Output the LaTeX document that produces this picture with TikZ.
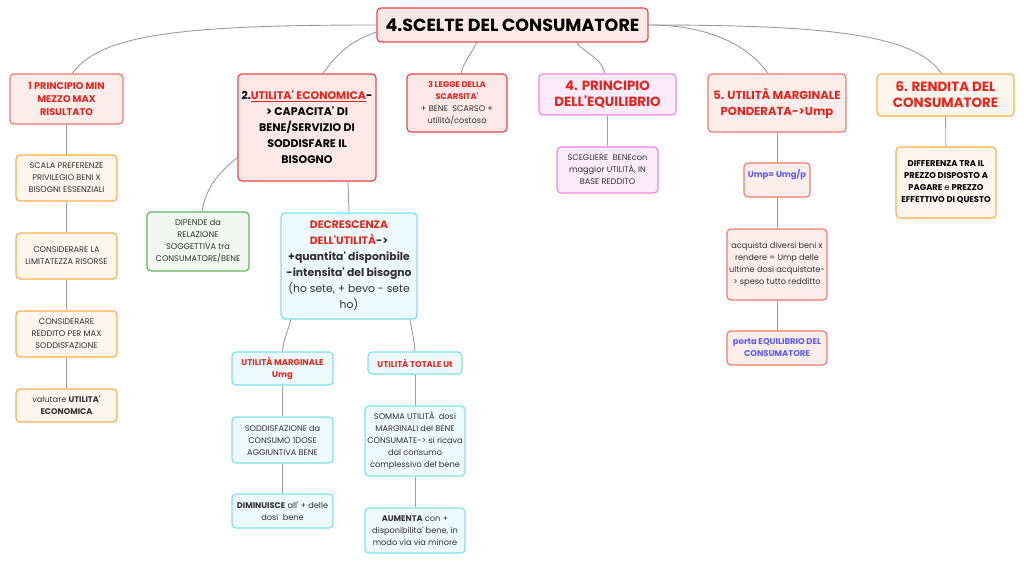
\documentclass[tikz,border=0pt]{standalone}
\usepackage{fontspec}
\setmainfont{Poppins}[Ligatures=TeXOff]
\usepackage{xcolor}

\definecolor{linegray}{HTML}{9C9C9C}
\definecolor{txtgray}{HTML}{303030}
\definecolor{hdred}{HTML}{E8241C}
\definecolor{hdblue}{HTML}{5B5BF5}
\definecolor{redline}{HTML}{E54848}
\definecolor{redfill}{HTML}{FDE8E8}
\definecolor{salmonline}{HTML}{F27A6E}
\definecolor{salmonfill}{HTML}{FDEEEC}
\definecolor{orangeline}{HTML}{F9B04C}
\definecolor{orangefill}{HTML}{FEF5EC}
\definecolor{greenline}{HTML}{5CB85C}
\definecolor{greenfill}{HTML}{F1F8F1}
\definecolor{cyanline}{HTML}{7CE2EA}
\definecolor{cyanfill}{HTML}{EEFBFC}
\definecolor{pinkline}{HTML}{F285E8}
\definecolor{pinkfill}{HTML}{FDEBFB}

\newcommand{\redtxt}[1]{\textcolor{hdred}{\textbf{#1}}}

\begin{document}
\begin{tikzpicture}[x=1pt,y=-1pt,
  box/.style={rounded corners=4pt, line width=1.2pt, align=center,
    inner sep=0pt, text=txtgray, font=\fontsize{8.2}{12}\selectfont},
  wh/.style 2 args={minimum width=#1, minimum height=#2},
  redbox/.style={box, draw=redline, fill=redfill},
  salmonbox/.style={box, draw=salmonline, fill=salmonfill},
  orangebox/.style={box, draw=orangeline, fill=orangefill},
  greenbox/.style={box, draw=greenline, fill=greenfill},
  cyanbox/.style={box, draw=cyanline, fill=cyanfill},
  pinkbox/.style={box, draw=pinkline, fill=pinkfill},
  conn/.style={draw=linegray, line width=0.9pt}
  ]
  \fill[white] (0,0) rectangle (1024,564);
  \useasboundingbox (0,0) rectangle (1024,564);

  \tikzset{big/.style={font=\fontsize{13.4}{16}\selectfont\bfseries}}
  \tikzset{mid/.style={font=\fontsize{8.4}{12}\selectfont\bfseries}}

  % root
  \node[redbox, wh={271}{34}, font=\fontsize{17.5}{20}\selectfont\bfseries, text=black]
    (root) at (512.5,25) {4.SCELTE DEL CONSUMATORE};

  % 1
  \node[salmonbox, wh={113}{50}, font=\fontsize{9.7}{13}\selectfont\bfseries, text=hdred] (p1) at (66.5,99)
    {1 PRINCIPIO MIN\\MEZZO MAX\\RISULTATO};
  \node[orangebox, wh={101}{46}] (p1a) at (66.5,178)
    {SCALA PREFERENZE\\PRIVILEGIO BENI X\\BISOGNI ESSENZIALI};
  \node[orangebox, wh={101}{46}] (p1b) at (66.5,256)
    {CONSIDERARE LA\\LIMITATEZZA RISORSE};
  \node[orangebox, wh={101}{46}] (p1c) at (66.5,334)
    {CONSIDERARE\\REDDITO PER MAX\\SODDISFAZIONE};
  \node[orangebox, wh={101}{33}] (p1d) at (66.5,405.5)
    {valutare \textbf{UTILITA'}\\\textbf{ECONOMICA}};

  % 2
  \node[redbox, wh={138}{107}, font=\fontsize{11}{16}\selectfont\bfseries, text=black] (p2) at (307,127.5)
    {2.\textcolor{hdred}{\underline{UTILITA' ECONOMICA}}-\\> CAPACITA' DI\\BENE/SERVIZIO DI\\SODDISFARE IL\\BISOGNO};
  \node[greenbox, wh={102}{59}] (dip) at (198,241.5)
    {DIPENDE da\\RELAZIONE\\SOGGETTIVA tra\\CONSUMATORE/BENE};
  \node[cyanbox, wh={136}{106}, font=\fontsize{10.8}{16}\selectfont] (dec) at (349,266)
    {\redtxt{DECRESCENZA}\\\redtxt{DELL'UTILITÀ}\textbf{->}\\\textbf{+quantita' disponibile}\\\textbf{-intensita' del bisogno}\\(ho sete, + bevo - sete\\ho)};
  \node[cyanbox, wh={101}{33}, mid, text=hdred] (umg) at (282.5,368.5)
    {UTILITÀ MARGINALE\\Umg};
  \node[cyanbox, wh={101}{46}] (umg1) at (282.5,440)
    {SODDISFAZIONE da\\CONSUMO 1DOSE\\AGGIUNTIVA BENE};
  \node[cyanbox, wh={101}{34}] (umg2) at (282.5,511)
    {\textbf{DIMINUISCE} all' + delle\\dosi\ \ bene};
  \node[cyanbox, wh={94}{22}, mid, text=hdred] (ut) at (415,363)
    {UTILITÀ TOTALE Ut};
  \node[cyanbox, wh={100}{70}] (ut1) at (415,441)
    {SOMMA UTILITÀ\ \ dosi\\MARGINALI del BENE\\CONSUMATE-> si ricava\\dal consumo\\complessivo del bene};
  \node[cyanbox, wh={100}{45}] (ut2) at (415,530.5)
    {\textbf{AUMENTA} con +\\disponibilita' bene, in\\modo via via minore};

  % 3
  \node[redbox, wh={100}{58}] (p3) at (457,103)
    {\redtxt{3 LEGGE DELLA}\\\redtxt{SCARSITA'}\\+ BENE\ \ SCARSO +\\utilità/costoso};

  % 4
  \node[pinkbox, wh={137}{41}, big, text=hdred] (p4) at (607.5,94.5)
    {4. PRINCIPIO\\DELL'EQUILIBRIO};
  \node[pinkbox, wh={101}{46}] (p4a) at (607.5,170)
    {SCEGLIERE\ \ BENEcon\\maggior UTILITÀ, IN\\BASE REDDITO};

  % 5
  \node[salmonbox, wh={138}{58}, font=\fontsize{11.6}{16}\selectfont\bfseries, text=hdred] (p5) at (777,103)
    {5. UTILITÀ MARGINALE\\PONDERATA->Ump};
  \node[salmonbox, wh={66}{34}, mid, text=hdblue] (ump) at (777,180)
    {Ump= Umg/p\\\mbox{}};
  \node[salmonbox, wh={100}{71}] (p5b) at (777,264.5)
    {acquista diversi beni x\\rendere = Ump delle\\ultime dosi acquistate-\\> speso tutto redditto};
  \node[salmonbox, wh={100}{34}, mid, text=hdblue] (p5c) at (777,348)
    {porta EQUILIBRIO DEL\\CONSUMATORE};

  % 6
  \node[orangebox, wh={137}{42}, big, text=hdred] (p6) at (945.5,95)
    {6. RENDITA DEL\\CONSUMATORE};
  \node[orangebox, wh={100}{71}, mid, text=black] (p6a) at (946,182.5)
    {DIFFERENZA TRA IL\\PREZZO DISPOSTO A\\PAGARE \mdseries e \bfseries PREZZO\\EFFETTIVO DI QUESTO};

  % connectors from the root
  \draw[conn] (root.west) to[out=180,in=55,out looseness=1.6,in looseness=0.4] ([xshift=6pt]p1.north);
  \draw[conn] ([yshift=-7pt]root.west) to[out=200,in=55] ([xshift=16pt]p2.north);
  \draw[conn] ([xshift=-36pt]root.south) to[out=-115,in=75] ([xshift=4pt]p3.north);
  \draw[conn] ([xshift=64pt]root.south) to[out=-50,in=100] ([xshift=-3pt]p4.north);
  \draw[conn] (root.east) to[out=0,in=125,out looseness=1.3,in looseness=0.6] ([xshift=-9pt]p5.north);
  \draw[conn] (root.east) to[out=0,in=125,out looseness=1.6,in looseness=0.4] ([xshift=-4pt]p6.north);

  % branch connectors
  \draw[conn] (p1) -- (p1a) (p1a) -- (p1b) (p1b) -- (p1c) (p1c) -- (p1d);
  \draw[conn] ([yshift=-30pt]p2.west) to[out=220,in=80] ([xshift=4pt]dip.north);
  \draw[conn] ([xshift=41pt]p2.south) -- (dec.north);
  \draw[conn] ([xshift=-58pt]dec.south) to[out=-105,in=85] (umg.north);
  \draw[conn] ([xshift=61pt]dec.south) to[out=-80,in=95] (ut.north);
  \draw[conn] (umg) -- (umg1) (umg1) -- (umg2);
  \draw[conn] (ut) -- (ut1) (ut1) -- (ut2);
  \draw[conn] (p4) -- (p4a);
  \draw[conn] (p5) -- (ump) (ump) -- (p5b) (p5b) -- (p5c);
  \draw[conn] (p6) -- (p6a);
\end{tikzpicture}
\end{document}
